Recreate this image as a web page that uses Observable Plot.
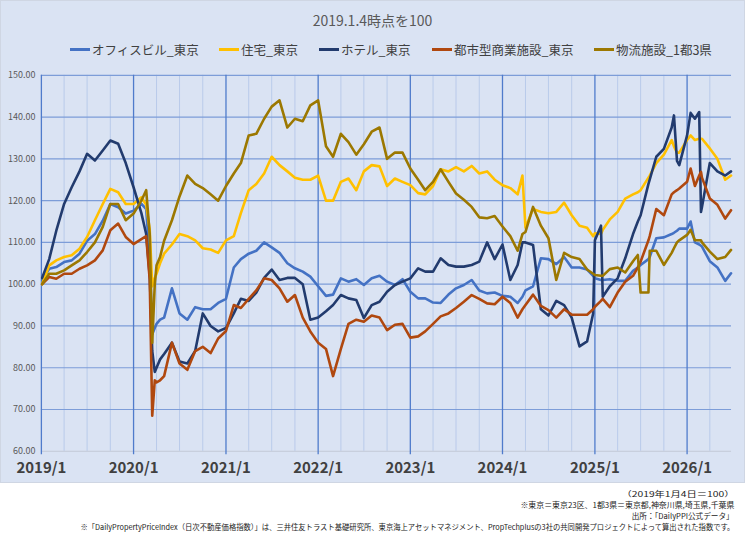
<!DOCTYPE html>
<html><head><meta charset="utf-8">
<script src="https://cdn.jsdelivr.net/npm/d3@7"></script>
<script src="https://cdn.jsdelivr.net/npm/@observablehq/plot@0.6"></script>
<style>
body{margin:0;background:#fff;font-family:"Noto Sans CJK JP","Noto Sans",sans-serif;}
#wrap{position:relative;width:745px;height:538px;overflow:hidden;}
#chart{position:absolute;left:0;top:0;width:745px;height:483px;background:#DAE3F3;border:1px solid #CFD6E3;box-sizing:border-box;}
#chart svg{position:absolute;left:-1px;top:-1px;}
#title{position:absolute;left:0;width:745px;top:10px;text-align:center;font-size:14px;color:#595959;line-height:20px;}
.leg{position:absolute;top:40px;height:18px;display:flex;align-items:center;font-size:12.5px;color:#404040;white-space:nowrap;}
.sw{width:20px;height:3px;margin-right:2px;}
.note{position:absolute;right:11px;font-size:7.6px;color:#222;white-space:nowrap;transform-origin:right center;line-height:11px;}
</style></head>
<body>
<div id="wrap">
  <div id="chart"></div>
  <div id="title"></div>
  <div id="legend"></div>
  <div id="notes"></div>
</div>
<script>
// ---- data ----
const titleText = "2019.1.4時点を100";
const seriesNames = ["オフィスビル_東京","住宅_東京","ホテル_東京","都市型商業施設_東京","物流施設_1都3県"];
const seriesColors = ["#4472C4","#FFC000","#223B6E","#B0480F","#9C7800"];
const yTicks = [60,70,80,90,100,110,120,130,140,150];
const xTickLabels = ["2019/1","2020/1","2021/1","2022/1","2023/1","2024/1","2025/1","2026/1"];

const dates = [
  "2019-01-04","2019-02-01","2019-03-01","2019-04-01","2019-05-01","2019-06-01","2019-07-01","2019-08-01","2019-09-01","2019-10-01","2019-11-01","2019-12-01",
  "2020-01-01","2020-02-01","2020-02-20","2020-03-05","2020-03-15","2020-03-25","2020-04-01","2020-04-15","2020-05-01","2020-06-01","2020-07-01","2020-08-01","2020-09-01","2020-10-01","2020-11-01","2020-12-01",
  "2021-01-01","2021-02-01","2021-03-01","2021-04-01","2021-05-01","2021-06-01","2021-07-01","2021-08-01","2021-09-01","2021-10-01","2021-11-01","2021-12-01",
  "2022-01-01","2022-02-01","2022-03-01","2022-04-01","2022-05-01","2022-06-01","2022-07-01","2022-08-01","2022-09-01","2022-10-01","2022-11-01","2022-12-01",
  "2023-01-01","2023-02-01","2023-03-01","2023-04-01","2023-05-01","2023-06-01","2023-07-01","2023-08-01","2023-09-01","2023-10-01","2023-11-01","2023-12-01",
  "2024-01-01","2024-02-01","2024-03-01","2024-03-20","2024-04-01","2024-05-01","2024-06-01","2024-07-01","2024-08-01","2024-09-01","2024-10-01","2024-11-01","2024-12-01","2024-12-25",
  "2025-01-01","2025-01-25","2025-02-01","2025-03-01","2025-04-01","2025-05-01","2025-06-01","2025-06-20","2025-07-01","2025-08-01","2025-08-06","2025-09-01","2025-10-01","2025-11-01","2025-11-10","2025-11-22","2025-12-01",
  "2026-01-01","2026-01-15","2026-02-01","2026-02-18","2026-02-25","2026-03-01","2026-04-01","2026-05-01","2026-06-01","2026-06-24"
];
const office = [
  101,103.7,104.1,105.3,105.7,107.3,110.4,112,115.2,119.2,118.4,116.9,
  117.6,119.2,118,106,88,89.5,90.5,91.5,92,99,93,91.5,94.5,94,94,95.5,
  96.5,104,106,107.3,108,110,108.8,107.5,105,103.8,103,101.8,
  99.5,97.2,97.5,101.4,100.6,101.2,99.8,101.4,102,100.6,99.8,101.2,
  98.2,96.6,96.6,95.6,95.5,97.5,99,99.8,101,98.5,97.8,98,
  97.2,97,95.5,97,98.5,99.5,106.2,106,104.8,106.5,104,104,103.5,102,
  101.4,101,101,101.2,100.8,100.8,103.2,104,104.6,106,106.5,111,111.2,112,112.3,112.8,113.3,
  113.3,115,110,109.5,109.2,109,105.5,104,100.8,102.6
];
const housing = [
  100,104.5,105.7,106.5,106.9,108.5,111.3,115.3,119.2,122.8,122,119.2,
  119.2,120.8,119,113,99.5,101.5,102.5,105,107.3,109.5,112,111.5,110.5,108.6,108.3,107.5,
  110.5,111.5,117,122.5,124,126.5,130.5,128.5,127,125.5,125,125,
  126,120,120,124.5,125.3,122.5,127,128.5,128.2,123.5,125.3,124.5,
  123.7,121.8,121.5,123.5,127.5,127,128,127,128.3,126.5,127,125,
  123.7,123,121.5,126,113.5,118,117.3,117,117.3,119.5,116.5,114,113.5,111.5,
  112.2,112,113,115.5,117.3,120.5,121.5,122,122.5,125.5,126,129,131,134.5,133,131.5,131.5,
  134.5,135.6,134.5,134.8,134.8,134.8,132.5,130,125,126
];
const hotel = [
  101.5,106,112.8,119.2,123.2,127,131.2,129.6,132,134.4,133.6,129,
  123.2,117,112,102,84,79,80,82,83.3,86,81.5,81,84,93,90,88.7,
  89.5,93,96.5,96,98,101.5,103.5,101,101.5,101.5,100,91.5,
  92,93.5,95,97.4,96.6,96.2,91.9,95,95.8,98.2,99.8,100.6,
  101.4,103.8,103,103,106.2,104.6,104.2,104.2,104.6,105.4,110,106,
  109.5,101,104.6,110,110,109.4,94,92.5,96,95,92,85.1,86.3,93,
  110.5,114,97,99.5,101.4,106.2,112,115,116.5,124,125,130.5,132.4,137.5,140.4,129.5,128.5,
  135.6,141,139.6,141.2,117.3,118.5,129,127,126,127
];
const retail = [
  100,101.7,101.3,102.5,102.5,103.7,104.5,105.7,108.1,112.9,114.5,111.3,
  109.6,110.8,111.5,101,68.5,77,76.5,77,78,86,81,79.5,84,85,83.5,87,
  88.8,95,94.3,96.5,98.5,101.4,101,99,95.8,97.4,92,88.7,
  86,84.5,78,84.5,90.5,91.5,91,92.5,92,89,90.3,90.5,
  87.2,87.5,88.7,90.5,92.3,93,94.3,95.8,97.4,96.5,95.4,95.2,
  97,95.5,92,94,95,97.5,94.8,93.8,92,94,92.7,92.7,92.7,94,
  94.6,96,96.5,94.5,98,100.6,102,104,105.4,110.5,111.5,118,116.5,121.5,122,122.5,122.9,
  124.5,127.7,123.5,126,126.9,125.5,120.5,119,115.7,117.7
];
const logistics = [
  100,102.5,102.5,103.3,104.5,105.7,107.7,110,113.7,119.2,119.2,115.3,
  116.9,120,122.5,112,86,100,104.5,106.5,110.4,115.3,121,126,124,123,121.5,120,
  123.5,126.5,129,135.6,136,139.6,142.5,144,137.5,139.6,139,142.8,
  144,133,130.5,136,134,131,133.5,136.5,137.5,130,131.5,131.5,
  127.7,125,122.5,124.5,127.5,124.5,121.7,120.2,118.5,116,115.8,116.3,
  113.8,111.5,108,112,112.5,118.5,114,111,101,107.5,106.5,106,103.5,102.5,
  102.2,102,102,103.6,104,102.8,105.5,107,98,98,108,108,104.6,107.5,108.6,110,110.5,
  111.8,113,110.5,110.5,110.5,110,107.8,106,106.5,108.2
];
const notes = [
  "（2019年1月4日＝100）",
  "※東京＝東京23区、1都3県＝東京都,神奈川県,埼玉県,千葉県",
  "出所：「DailyPPI公式データ」",
  "※「DailyPropertyPriceIndex（日次不動産価格指数）」は、三井住友トラスト基礎研究所、東京海上アセットマネジメント、PropTechplusの3社の共同開発プロジェクトによって算出された指数です。"
];

// ---- build ----
const parse = d3.utcParse("%Y-%m-%d");
const seriesValues = [office, housing, hotel, retail, logistics];
const data = seriesNames.flatMap((name, i) =>
  dates.map((d, j) => ({date: parse(d), value: seriesValues[i][j], series: name})));

const xStart = new Date(Date.UTC(2019,0,1));
const xEnd = new Date(Date.UTC(2026,5,26));
const yearDates = xTickLabels.map(s => { const [y, m] = s.split("/"); return new Date(Date.UTC(+y, +m - 1, 1)); });
const labelMap = new Map(yearDates.map((d, i) => [+d, xTickLabels[i]]));
const quarterDates = [];
for (let y = 2019; y <= 2026; y++) for (const m of [3,6,9]) {
  const d = new Date(Date.UTC(y, m, 1)); if (d < xEnd) quarterDates.push(d);
}
const font = '"Noto Sans CJK JP","Noto Sans",sans-serif';

const chart = Plot.plot({
  width: 745, height: 483,
  marginTop: 75, marginBottom: 31, marginLeft: 41, marginRight: 12,
  style: {background: "transparent", fontFamily: font, overflow: "visible"},
  x: {type: "utc", domain: [xStart, xEnd], label: null},
  y: {domain: [60, 150], label: null},
  color: {domain: seriesNames, range: seriesColors},
  marks: [
    Plot.ruleX(quarterDates, {stroke: "#B9CBEA", strokeWidth: 1, y1: 60, y2: 150}),
    Plot.ruleY(yTicks.filter(v => v > 60), {stroke: "#7D9DD8", strokeWidth: 1.2}),
    Plot.ruleY([60], {stroke: "#C3CAD6", strokeWidth: 1}),
    Plot.ruleX(yearDates, {stroke: "#4F7BCB", strokeWidth: 1.3, y1: 59.2, y2: 150}),
    Plot.line(data, {x: "date", y: "value", z: "series", stroke: "series", strokeWidth: 2.6, strokeLinejoin: "round", strokeLinecap: "round"}),
    Plot.axisY(yTicks, {tickSize: 0, tickPadding: 6, tickFormat: d3.format(".2f"), fontSize: 9, color: "#595959", fill: "#595959", label: null}),
    Plot.axisX(yearDates, {tickSize: 0, tickPadding: 11, tickFormat: d => labelMap.get(+d), fontSize: 15, fontWeight: "bold", color: "#404040", fill: "#404040", label: null})
  ]
});
document.getElementById("chart").appendChild(chart);

document.getElementById("title").textContent = titleText;

const legendX = [70, 219, 319, 432, 594];
const legend = document.getElementById("legend");
seriesNames.forEach((name, i) => {
  const item = document.createElement("div");
  item.className = "leg";
  item.style.left = legendX[i] + "px";
  const sw = document.createElement("div");
  sw.className = "sw"; sw.style.background = seriesColors[i];
  const tx = document.createElement("span"); tx.textContent = name;
  item.appendChild(sw); item.appendChild(tx);
  legend.appendChild(item);
});

const noteTops = [487.5, 498.8, 510.1, 521.4];
const noteWidths = [113, 214, 102, 654];
const notesEl = document.getElementById("notes");
notes.forEach((t, i) => {
  const el = document.createElement("div");
  el.className = "note"; el.textContent = t; el.style.top = noteTops[i] + "px";
  notesEl.appendChild(el);
  const w = el.getBoundingClientRect().width;
  if (w > 0) el.style.transform = `scaleX(${noteWidths[i] / w})`;
});
</script>
</body></html>
